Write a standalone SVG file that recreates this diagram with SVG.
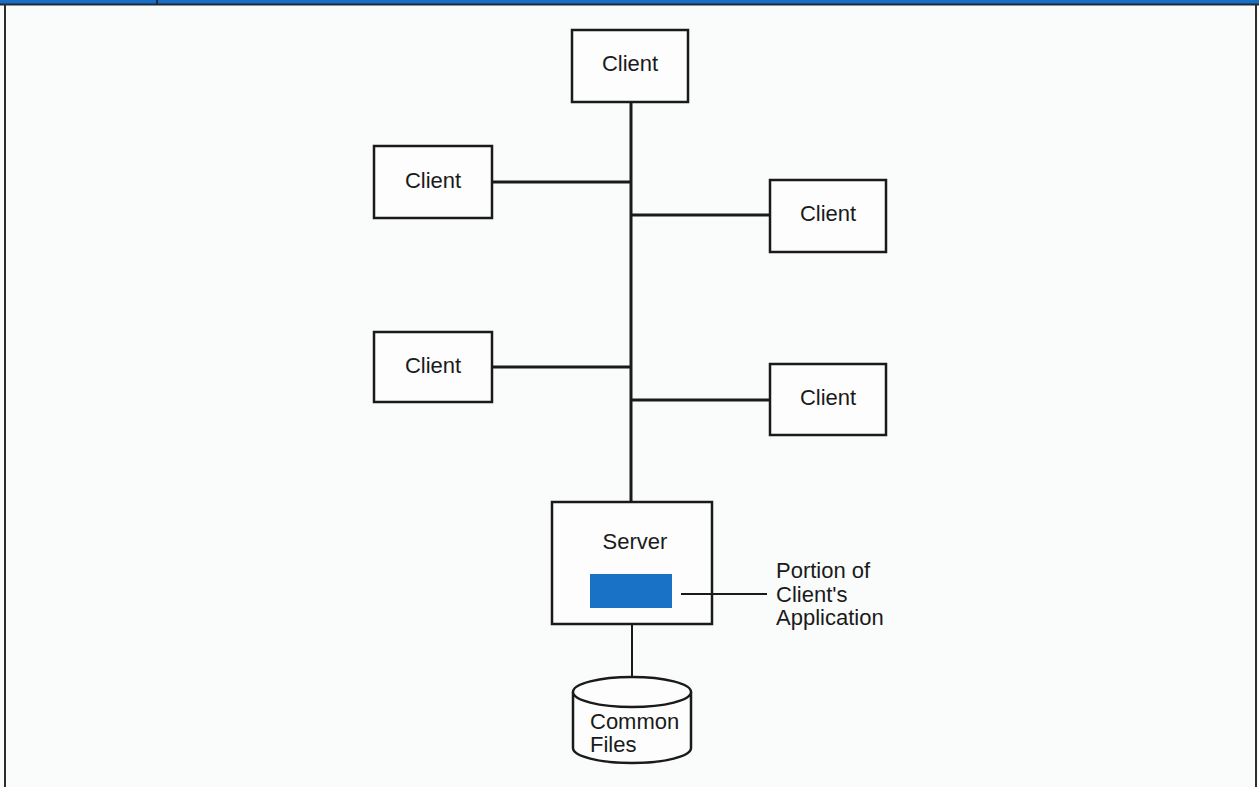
<svg xmlns="http://www.w3.org/2000/svg" width="1259" height="787" viewBox="0 0 1259 787">
  <style>
    .box { fill: #fdfdfd; stroke: #1a1a1a; stroke-width: 2.5; }
    .lbl { font-family: "Liberation Sans", Arial, sans-serif; font-size: 22px; fill: #1a1a1a; }
    .mid { text-anchor: middle; }
    .wire { stroke: #1a1a1a; stroke-width: 3; fill: none; }
    .thin { stroke: #1a1a1a; stroke-width: 2; fill: none; }
  </style>

  <!-- page and frame -->
  <rect x="0" y="0" width="1259" height="787" fill="#fafbfb"/>
  <rect x="0" y="0" width="1259" height="4" fill="#1a6ec4"/>
  <line x1="0" y1="4.5" x2="1259" y2="4.5" stroke="#1c2a3a" stroke-width="2"/>
  <line x1="157" y1="0" x2="157" y2="4" stroke="#1c2a3a" stroke-width="2"/>
  <line x1="5" y1="4" x2="5" y2="787" stroke="#2a2f2a" stroke-width="2"/>
  <line x1="1256" y1="4" x2="1256" y2="787" stroke="#2a2f2a" stroke-width="2"/>

  <!-- bus and branch connectors -->
  <g id="connectors">
    <line class="wire" x1="631" y1="102" x2="631" y2="502"/>
    <line class="wire" x1="492" y1="182" x2="631" y2="182"/>
    <line class="wire" x1="631" y1="215" x2="770" y2="215"/>
    <line class="wire" x1="492" y1="367" x2="631" y2="367"/>
    <line class="wire" x1="631" y1="400" x2="770" y2="400"/>
    <line class="thin" x1="632" y1="625" x2="632" y2="677"/>
  </g>

  <g id="client-top">
    <rect class="box" x="572" y="30" width="116" height="72"/>
    <text class="lbl mid" x="630" y="71">Client</text>
  </g>
  <g id="client-left-1">
    <rect class="box" x="374" y="146" width="118" height="72"/>
    <text class="lbl mid" x="433" y="188">Client</text>
  </g>
  <g id="client-right-1">
    <rect class="box" x="770" y="180" width="116" height="72"/>
    <text class="lbl mid" x="828" y="221">Client</text>
  </g>
  <g id="client-left-2">
    <rect class="box" x="374" y="332" width="118" height="70"/>
    <text class="lbl mid" x="433" y="373">Client</text>
  </g>
  <g id="client-right-2">
    <rect class="box" x="770" y="364" width="116" height="71"/>
    <text class="lbl mid" x="828" y="405">Client</text>
  </g>

  <g id="server">
    <rect class="box" x="552" y="502" width="160" height="122"/>
    <text class="lbl mid" x="635" y="549">Server</text>
    <rect x="590" y="574" width="82" height="34" fill="#1a72c6"/>
  </g>

  <!-- callout: leader line runs from inside the server box out to the text -->
  <g id="app-label">
    <line class="thin" x1="681" y1="594" x2="767" y2="594"/>
    <text class="lbl" x="776" y="578">Portion of</text>
    <text class="lbl" x="776" y="602">Client's</text>
    <text class="lbl" x="776" y="625">Application</text>
  </g>

  <g id="common-files">
    <path class="box" d="M573 692 L573 748 A59 15 0 0 0 691 748 L691 692 A59 15 0 0 0 573 692 Z"/>
    <path class="box" d="M573 692 A59 15 0 0 0 691 692" fill="none"/>
    <text class="lbl" x="590" y="729">Common</text>
    <text class="lbl" x="590" y="752">Files</text>
  </g>
</svg>
